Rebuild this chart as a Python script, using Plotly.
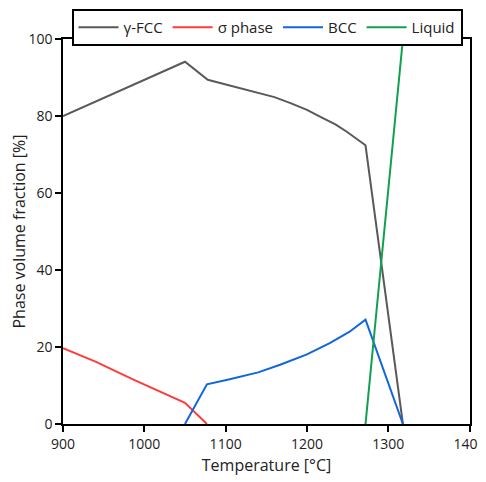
import plotly.graph_objects as go

fcc_T = [900, 1050, 1078, 1105, 1138, 1160, 1179, 1200, 1219, 1235, 1249, 1272, 1318]
fcc_v = [80.0, 94.1, 89.4, 87.9, 86.2, 84.9, 83.4, 81.6, 79.5, 77.8, 75.9, 72.4, 0.0]
sigma_T = [900, 940, 986, 1020, 1050, 1077]
sigma_v = [19.7, 16.2, 11.6, 8.4, 5.5, 0.0]
bcc_T = [1050, 1077, 1105, 1140, 1167, 1200, 1228, 1252, 1272, 1318]
bcc_v = [0.0, 10.3, 11.6, 13.4, 15.4, 18.1, 21.0, 23.9, 27.1, 0.0]
liq_T = [1272, 1318]
liq_v = [0.0, 100.0]

font = "Open Sans"
fig = go.Figure()
series = [
    ("γ-FCC", fcc_T, fcc_v, "#595959"),
    ("σ phase", sigma_T, sigma_v, "#ff3b3b"),
    ("BCC", bcc_T, bcc_v, "#1166dd"),
    ("Liquid", liq_T, liq_v, "#10a050"),
]
for name, x, y, c in series:
    fig.add_trace(go.Scatter(x=x, y=y, name=name, mode="lines",
                             line=dict(color=c, width=2)))

fig.update_layout(
    width=478, height=474,
    margin=dict(l=55, r=16, t=31, b=58, autoexpand=False),
    plot_bgcolor="white", paper_bgcolor="white",
    font=dict(family=font, size=14, color="#222"),
    showlegend=True,
    legend=dict(orientation="h", xref="container", yref="container",
                x=259/478, xanchor="center", y=1 - 1/474, yanchor="top",
                bordercolor="black", borderwidth=2, font=dict(size=15),
                tracegroupgap=0, itemwidth=40),
    xaxis=dict(range=[900, 1400.5], tickvals=[900, 1000, 1100, 1200, 1300, 1400],
               ticks="outside", ticklen=6, tickwidth=1.5, tickcolor="black",
               showline=True, linecolor="black", linewidth=1.5, mirror=True,
               showgrid=False, zeroline=False,
               title=dict(text="Temperature [°C]", font=dict(size=16), standoff=8)),
    yaxis=dict(range=[0, 100], tickvals=[0, 20, 40, 60, 80, 100],
               ticks="outside", ticklen=6, tickwidth=1.5, tickcolor="black",
               showline=True, linecolor="black", linewidth=1.5, mirror=True,
               showgrid=False, zeroline=False,
               title=dict(text="Phase volume fraction [%]", font=dict(size=16), standoff=6)),
)
fig.write_html("out.html")
